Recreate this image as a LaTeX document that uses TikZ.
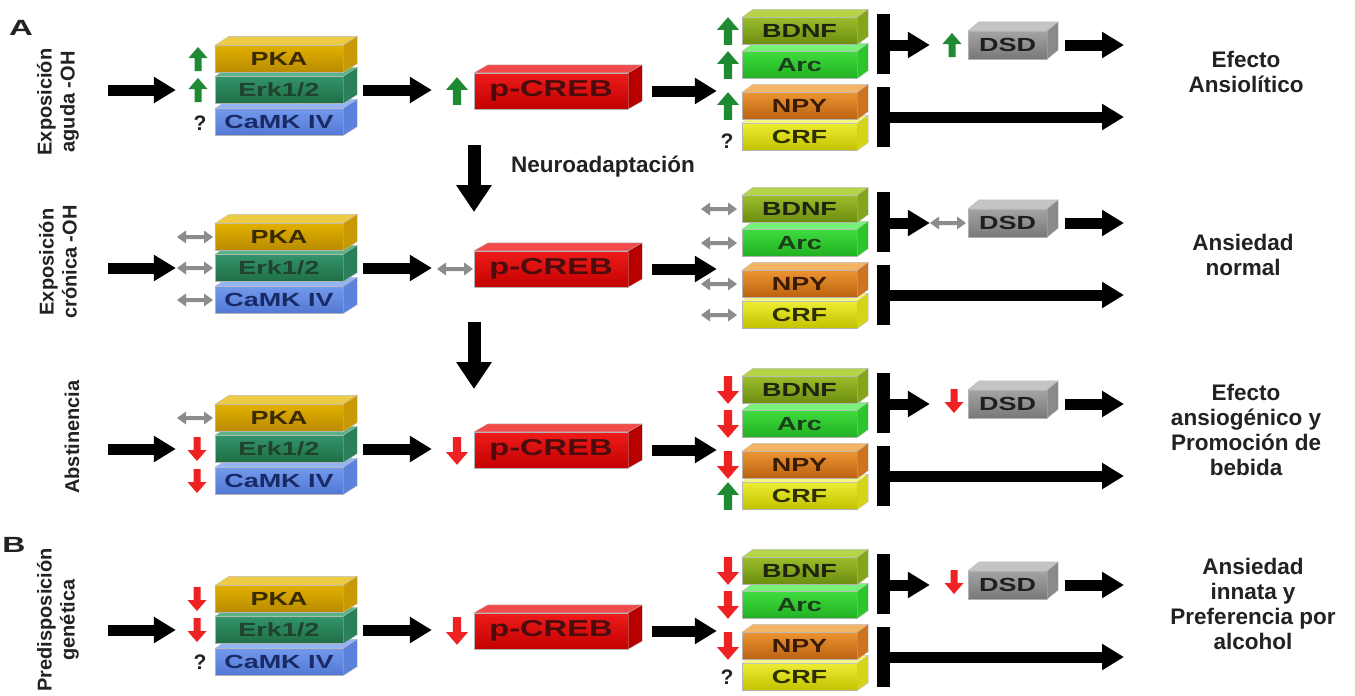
\documentclass[tikz,border=0pt]{standalone}
\usepackage{fontspec}
\setmainfont{Liberation Sans}
\usepackage{graphicx}
\usetikzlibrary{arrows.meta}

% slab colours: A = upper front, B = lower front, L = top face, S = side face, T = text
\definecolor{pkaA}{HTML}{E2B000}\definecolor{pkaB}{HTML}{B88A00}\definecolor{pkaL}{HTML}{EDCB45}\definecolor{pkaS}{HTML}{C99A05}\definecolor{pkaT}{HTML}{3A2A00}
\definecolor{erkA}{HTML}{33946A}\definecolor{erkB}{HTML}{1F6E45}\definecolor{erkL}{HTML}{58B586}\definecolor{erkS}{HTML}{2A8058}\definecolor{erkT}{HTML}{1F432D}
\definecolor{camkA}{HTML}{7399EC}\definecolor{camkB}{HTML}{5278D4}\definecolor{camkL}{HTML}{93B4F5}\definecolor{camkS}{HTML}{5C82DC}\definecolor{camkT}{HTML}{1A2A66}
\definecolor{crebA}{HTML}{EE1C1C}\definecolor{crebB}{HTML}{C40000}\definecolor{crebL}{HTML}{F24A4A}\definecolor{crebS}{HTML}{B80000}\definecolor{crebT}{HTML}{4A0C0C}
\definecolor{bdnfA}{HTML}{9ABD2A}\definecolor{bdnfB}{HTML}{6C8C10}\definecolor{bdnfL}{HTML}{B5D448}\definecolor{bdnfS}{HTML}{84A41C}\definecolor{bdnfT}{HTML}{1E2410}
\definecolor{arcA}{HTML}{3EDC3E}\definecolor{arcB}{HTML}{22B022}\definecolor{arcL}{HTML}{78F278}\definecolor{arcS}{HTML}{2EC42E}\definecolor{arcT}{HTML}{1A3E1A}
\definecolor{npyA}{HTML}{EC9432}\definecolor{npyB}{HTML}{BA6210}\definecolor{npyL}{HTML}{F4B466}\definecolor{npyS}{HTML}{CC7420}\definecolor{npyT}{HTML}{3A1A00}
\definecolor{crfA}{HTML}{ECEC34}\definecolor{crfB}{HTML}{C2C200}\definecolor{crfL}{HTML}{F6F684}\definecolor{crfS}{HTML}{D4D418}\definecolor{crfT}{HTML}{2E2E00}
\definecolor{dsdA}{HTML}{A4A4A4}\definecolor{dsdB}{HTML}{787878}\definecolor{dsdL}{HTML}{C4C4C4}\definecolor{dsdS}{HTML}{8A8A8A}\definecolor{dsdT}{HTML}{1E1E1E}
\definecolor{upgreen}{HTML}{1F8A32}
\definecolor{downred}{HTML}{EE2222}
\definecolor{samegrey}{HTML}{8C8C8C}
\definecolor{ink}{HTML}{222222}

\tikzset{
  slab/.style={rectangle, inner sep=0pt, draw=black!30, line width=0.3pt,
    font=\fontsize{19}{19}\selectfont\bfseries},
  kinase/.style={slab, minimum width=128pt, minimum height=27pt},
  target/.style={slab, minimum width=115pt, minimum height=27pt},
  face/.style={draw=black!25, line width=0.3pt},
  pka front/.style={kinase, top color=pkaA, bottom color=pkaB, text=pkaT},
  pka top/.style={face, fill=pkaL}, pka side/.style={face, fill=pkaS},
  erk front/.style={kinase, top color=erkA, bottom color=erkB, text=erkT},
  erk top/.style={face, fill=erkL}, erk side/.style={face, fill=erkS},
  camk front/.style={kinase, top color=camkA, bottom color=camkB, text=camkT},
  camk top/.style={face, fill=camkL}, camk side/.style={face, fill=camkS},
  creb front/.style={slab, minimum width=154pt, minimum height=36pt,
    font=\fontsize{23}{23}\selectfont\bfseries, top color=crebA, bottom color=crebB, text=crebT},
  creb top/.style={face, fill=crebL}, creb side/.style={face, fill=crebS},
  bdnf front/.style={target, top color=bdnfA, bottom color=bdnfB, text=bdnfT},
  bdnf top/.style={face, fill=bdnfL}, bdnf side/.style={face, fill=bdnfS},
  arc front/.style={target, top color=arcA, bottom color=arcB, text=arcT},
  arc top/.style={face, fill=arcL}, arc side/.style={face, fill=arcS},
  npy front/.style={target, top color=npyA, bottom color=npyB, text=npyT},
  npy top/.style={face, fill=npyL}, npy side/.style={face, fill=npyS},
  crf front/.style={target, top color=crfA, bottom color=crfB, text=crfT},
  crf top/.style={face, fill=crfL}, crf side/.style={face, fill=crfS},
  dsd front/.style={slab, minimum width=79pt, minimum height=28pt, top color=dsdA, bottom color=dsdB, text=dsdT},
  dsd top/.style={face, fill=dsdL}, dsd side/.style={face, fill=dsdS},
  bar/.style={rectangle, fill=black, inner sep=0pt, minimum width=13pt, minimum height=60pt},
  fat/.style={line width=11pt, -{Triangle[length=22pt,width=25pt]}},
  drop/.style={line width=13pt, -{Triangle[length=27pt,width=34pt]}},
  qmark/.style={font=\fontsize{21}{21}\selectfont\bfseries, text=ink, inner sep=0pt},
  stage/.style={rotate=90, align=center, font=\fontsize{20}{23}\selectfont\bfseries, text=ink, inner sep=0pt},
  outcome/.style={align=center, font=\fontsize{22.5}{25}\selectfont\bfseries, text=ink, inner sep=0pt},
  panel/.style={font=\fontsize{22}{22}\selectfont\bfseries, text=ink, inner sep=0pt},
  incr/.pic={\fill[upgreen] (-3.5,12) -- (-3.5,-1) -- (-9.5,-1) -- (0,-12) -- (9.5,-1) -- (3.5,-1) -- (3.5,12) -- cycle;},
  decr/.pic={\fill[downred] (-3.5,-12) -- (-3.5,1) -- (-9.5,1) -- (0,12) -- (9.5,1) -- (3.5,1) -- (3.5,-12) -- cycle;},
  same/.pic={\fill[samegrey] (-18,0) -- (-9,-6.5) -- (-9,-2) -- (9,-2) -- (9,-6.5) -- (18,0) -- (9,6.5) -- (9,2) -- (-9,2) -- (-9,6.5) -- cycle;},
}

% a box seen from above and in front: front face as a node, then its top and right faces
% #1 name, #2 centre, #3 kind, #4 depth x, #5 depth y, #6 label
\newcommand\slab[6]{%
  \node[#3 front] (#1) at (#2) {\scalebox{1.42}[1]{#6}};
  \path[#3 top] (#1.north west) -- ([shift={(#4,-#5)}]#1.north west)
    -- ([shift={(#4,-#5)}]#1.north east) -- (#1.north east) -- cycle;
  \path[#3 side] (#1.north east) -- ([shift={(#4,-#5)}]#1.north east)
    -- ([shift={(#4,-#5)}]#1.south east) -- (#1.south east) -- cycle;
}

% one signalling pathway; #1 suffix, #2 height of the Erk1/2 slab
\newcommand\pathway[2]{%
  \slab{camk#1}{279,{#2+32}}{camk}{14}{9}{CaMK IV}
  \slab{erk#1}{279,#2}{erk}{14}{9}{Erk1/2}
  \slab{pka#1}{279,{#2-31}}{pka}{14}{9}{PKA}
  \slab{creb#1}{551,{#2+1}}{creb}{14}{8}{p-CREB}
  \slab{crf#1}{799.5,{#2+47}}{crf}{11}{8}{CRF}
  \slab{npy#1}{799.5,{#2+16}}{npy}{11}{8}{NPY}
  \slab{arc#1}{799.5,{#2-25}}{arc}{11}{8}{Arc}
  \slab{bdnf#1}{799.5,{#2-59}}{bdnf}{11}{8}{BDNF}
  \slab{dsd#1}{1007.5,{#2-45}}{dsd}{11}{9}{DSD}
  \node[bar] (bara#1) at (883.5,{#2-46}) {};
  \node[bar] (barb#1) at (883.5,{#2+27}) {};
  \coordinate (in#1) at (108,#2);
  \coordinate (outa#1) at (1124,{#2-45});
  \coordinate (outb#1) at (1124,{#2+27});
  \draw[fat, shorten >=39pt] (in#1) -- (erk#1.west);
  \draw[fat, shorten <=20pt, shorten >=42pt] (erk#1.east) -- (creb#1.west |- erk#1.east);
  \draw[fat, shorten <=24pt, shorten >=25pt] (creb#1.east) -- (creb#1.east -| bdnf#1.west);
  \draw[fat, shorten >=38pt] (bara#1.east |- dsd#1.west) -- (dsd#1.west);
  \draw[fat, shorten <=18pt] (dsd#1.east) -- (outa#1);
  \draw[fat] (barb#1.east) -- (outb#1);
}

\begin{document}
\begin{tikzpicture}[x=1pt,y=-1pt]
\fill[white] (0,0) rectangle (1355,696);
\useasboundingbox (0,0) rectangle (1355,696);

\pathway{1}{90}
\pathway{2}{268}
\pathway{3}{449}
\pathway{4}{630}

% panel letters and stage labels
\node[panel] (pa) at (21,28) {\scalebox{1.5}[1]{A}};
\node[panel] (pb) at (14,545) {\scalebox{1.45}[1]{B}};
\node[stage] (s1) at (58,102) {Exposición\\aguda -OH};
\node[stage] (s2) at (58,262) {Exposición\\crónica -OH};
\node[stage] (s3) at (72,437) {Abstinencia};
\node[stage] (s4) at (58,620) {Predisposición\\genética};

% outcomes
\node[outcome] (r1) at (1246,72) {Efecto\\Ansiolítico};
\node[outcome] (r2) at (1243,255) {Ansiedad\\normal};
\node[outcome] (r3) at (1246,430) {Efecto\\ansiogénico y\\Promoción de\\bebida};
\node[outcome] (r4) at (1253,604) {Ansiedad\\innata y\\Preferencia por\\alcohol};

% neuroadaptation between stages
\node[font=\fontsize{22.5}{25}\selectfont\bfseries, text=ink, inner sep=0pt] (na) at (603,167) {Neuroadaptación};
\coordinate (d1a) at (474,145); \coordinate (d1b) at (474,212);
\coordinate (d2a) at (474,322); \coordinate (d2b) at (474,389);
\draw[drop] (d1a) -- (d1b);
\draw[drop] (d2a) -- (d2b);

% change markers: acute exposure
\pic at (198,59) {incr}; \pic at (198,90) {incr};
\node[qmark] (q1) at (200,123) {?};
\pic[scale=1.15] at (457,91) {incr};
\pic[scale=1.15] at (728,31) {incr}; \pic[scale=1.15] at (728,65) {incr}; \pic[scale=1.15] at (728,106) {incr};
\node[qmark] (q2) at (727,141) {?};
\pic at (952,45) {incr};

% chronic exposure
\pic at (195,237) {same}; \pic at (195,268) {same}; \pic at (195,300) {same};
\pic at (455,269) {same};
\pic at (719,209) {same}; \pic at (719,243) {same}; \pic at (719,284) {same}; \pic at (719,315) {same};
\pic at (948,223) {same};

% withdrawal
\pic at (195,418) {same}; \pic at (197,449) {decr}; \pic at (197,481) {decr};
\pic[scale=1.15] at (457,451) {decr};
\pic[scale=1.15] at (728,390) {decr}; \pic[scale=1.15] at (728,424) {decr}; \pic[scale=1.15] at (728,465) {decr}; \pic[scale=1.15] at (728,496) {incr};
\pic at (954,401) {decr};

% genetic predisposition
\pic at (197,599) {decr}; \pic at (197,630) {decr};
\node[qmark] (q3) at (200,662) {?};
\pic[scale=1.15] at (457,631) {decr};
\pic[scale=1.15] at (728,571) {decr}; \pic[scale=1.15] at (728,605) {decr}; \pic[scale=1.15] at (728,646) {decr};
\node[qmark] (q4) at (727,677) {?};
\pic at (954,582) {decr};
\end{tikzpicture}
\end{document}
